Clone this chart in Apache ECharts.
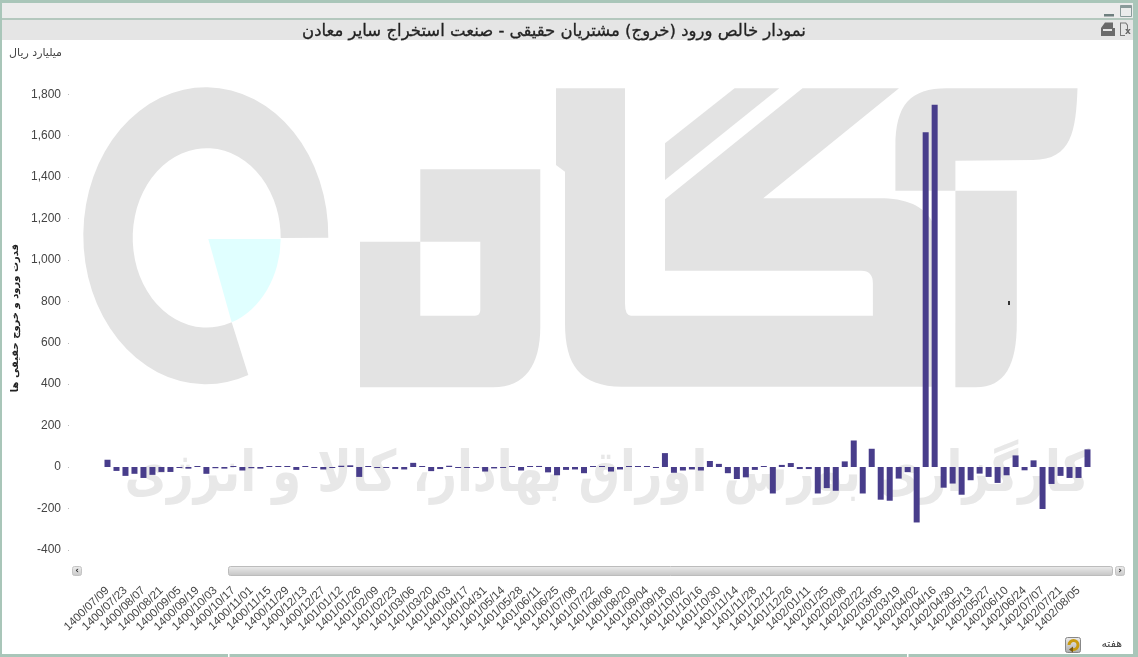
<!DOCTYPE html>
<html>
<head>
<meta charset="utf-8">
<style>html,body{margin:0;padding:0;background:#fff;overflow:hidden}#c{width:1138px;height:657px}</style>
<script src="https://cdn.jsdelivr.net/npm/echarts@6/dist/echarts.min.js"></script>
</head>
<body>
<div id="c"></div>
<script>
const chartTitle = 'نمودار خالص ورود (خروج) مشتریان حقیقی - صنعت استخراج سایر معادن';
const yAxisTitle = 'قدرت ورود و خروج حقیقی ها';
const unitLabel = 'میلیارد ریال';
const xUnitLabel = 'هفته';
const watermarkText = 'کارگزاری بورس اوراق بهادار، کالا و انرژی';

// every second week carries a label on the axis
const tickLabels = [
 '1400/07/09','1400/07/23','1400/08/07','1400/08/21','1400/09/05','1400/09/19','1400/10/03','1400/10/17','1400/11/01','1400/11/15','1400/11/29','1400/12/13','1400/12/27',
 '1401/01/12','1401/01/26','1401/02/09','1401/02/23','1401/03/06','1401/03/20','1401/04/03','1401/04/17','1401/04/31','1401/05/14','1401/05/28','1401/06/11','1401/06/25','1401/07/08','1401/07/22','1401/08/06','1401/08/20','1401/09/04','1401/09/18','1401/10/02','1401/10/16','1401/10/30','1401/11/14','1401/11/28','1401/12/12','1401/12/26',
 '1402/01/11','1402/01/25','1402/02/08','1402/02/22','1402/03/05','1402/03/19','1402/04/02','1402/04/16','1402/04/30','1402/05/13','1402/05/27','1402/06/10','1402/06/24','1402/07/07','1402/07/21','1402/08/05'
];
const netInflow = [
 35,-19,-43,-33,-53,-38,-24,-24,-2,-8, 3,-33,-6,-8, 2,-17,-6,-8, 1, 1,
 1,-14, 3,-2,-12,-4, 6, 8,-48, 4,-2,-4,-10,-12,20, 2,-20,-10, 6,-2,
 -5,-4,-22,-7,-1, 1,-17, 1, 5,-26,-40,-14,-12,-30, 0, 1,-22,-12, 1, 4,
 1,-5,67,-28,-17,-12,-17,29,15,-30,-58,-50,-14, 3,-128,10,19,-10,-10,-128,
 -102,-115,27,128,-128,88,-158,-163,-56,-25,-268,1617,1750,-100,-80,-134,-64,-32,-48,-77,
 -40,56,-16,32,-203,-82,-43,-53,-53,85
];
const categories = tickLabels.flatMap(l => [l, '']);

const WM = '#e3e3e3', FRAME = '#a9c6b9', INK = '#444';
let shapeId = 0;
const path = (d, style, z) => {
  const name = 'logoShape' + (shapeId++);
  echarts.graphic.registerShape(name, echarts.graphic.extendPath(d, {}));
  return {type:name, silent:true, z:z||0, shape:{}, style: typeof style === 'string' ? {fill:style} : style};
};
const rect = (x,y,w,h,fill,stroke,r) => ({type:'rect', silent:true, z:1, shape:{x,y,width:w,height:h,r:r||0}, style:{fill, stroke:stroke||null, lineWidth:stroke?1:0}});
const grad = (a,b) => ({type:'linear',x:0,y:0,x2:0,y2:1,colorStops:[{offset:0,color:a},{offset:1,color:b}]});

const graphic = [
 // watermark logo
 path('M328.3,237.7 A122.5,148.5 0 1 0 248.3,375 L231.7,322.3 A74,89.7 0 1 1 280.7,238 Z', WM),
 path('M208.3,239 L280.7,239 A74,89.7 0 0 1 231.7,322.3 Z', '#e0ffff'),
 path('M360,241.7 L420.3,241.7 L420.3,315.7 L475,315.7 Q480.3,315.7 480.3,310 L480.3,241.7 L420.3,241.7 L420.3,169.3 L540.3,169.3 L540.3,326.7 C540.3,365 525,387.3 493.3,387.3 L360,387.3 Z', WM),
 path('M556,88.3 L625,88.3 L625,303.3 Q625,315.7 631,315.7 L872.9,315.7 L872.9,283.3 Q872.9,270.7 861.4,270.7 L665,270.7 L665,199.3 L802.5,88.3 L899,88.3 L763.2,198.3 L879.3,198.3 C905,198.3 925,205 934,225 L934,386.7 L622,386.7 C580,386.7 565,365 565,323.3 L565,171.7 L556,165 Z', WM),
 path('M665,143.3 L734.6,88.3 L779.3,88.3 L665,180 Z', WM),
 path('M895.4,190.7 L895.4,146.7 C895.4,105 910,88.3 947,88.3 L1077.5,88.3 C1076,130 1072,160 1033,160 L955.4,160.7 L955.4,190.7 Z', WM),
 path('M955.4,190.7 L1016.8,190.7 L1016.8,323 C1016.8,365 1005,387.3 975.7,387.3 L955.4,387.3 Z', WM),
 {type:'text', silent:true, z:0, x:607, y:476, scaleX:0.815, style:{text:watermarkText, font:'bold 57px "DejaVu Sans"', fill:'#e8e8e8', align:'center', verticalAlign:'middle'}},
 rect(1008,301,2,4,'#333'),

 // window frame
 rect(0,0,1138,3,FRAME), rect(0,3,1138,15,'#ececec'), rect(0,18,1138,2,'#b4c8be'), rect(2,20,1131,20,'#e5e5e5'),
 rect(0,0,2,657,FRAME), rect(1133,0,5,657,FRAME), rect(0,654,1138,3,FRAME), rect(228,654,1.5,3,'#fff'), rect(907,654,1.5,3,'#fff'),
 // window buttons
 rect(1104,14,10,2.5,'#6f7f7f'), rect(1120.5,5.5,11,11,null,'#8a9a9a'), rect(1120.5,5.5,11,2.5,'#8a9a9a'),
 path('M1101,36 L1101,28 L1105,22.5 L1113,22.5 L1113,28 L1115,28 L1115,36 Z', '#6a6a6a', 1),
 rect(1103,29,9,2,'#e5e5e5'),
 path('M1120,22.5 L1126,22.5 L1128,25 L1128,30 L1127,30 L1127,25.5 L1125.5,23.5 L1121,23.5 L1121,35 L1125,35 L1125,36 L1120,36 Z', '#777', 1),
 {type:'text', silent:true, z:1, x:1128, y:32, style:{text:'x', font:'bold 9px "DejaVu Sans"', fill:'#666', align:'center', verticalAlign:'middle'}},

 // scrollbar
 rect(72.5,566.5,9,9,grad('#eee','#c8c8c8'),'#c4c4c4',2),
 rect(228.5,566.5,884,9,grad('#ececec','#c4c4c4'),'#bcbcbc',2),
 rect(1115.5,566.5,9,9,grad('#eee','#c8c8c8'),'#c4c4c4',2),
 {type:'text', silent:true, z:2, x:77, y:571, style:{text:'‹', font:'bold 9px "DejaVu Sans"', fill:'#333', align:'center', verticalAlign:'middle'}},
 {type:'text', silent:true, z:2, x:1120, y:571, style:{text:'›', font:'bold 9px "DejaVu Sans"', fill:'#333', align:'center', verticalAlign:'middle'}},

 // unit labels
 {type:'text', silent:true, z:1, x:62, y:53, style:{text:unitLabel, font:'11px "DejaVu Sans"', fill:INK, align:'right', verticalAlign:'middle'}},
 {type:'text', silent:true, z:1, x:1122, y:644, style:{text:xUnitLabel, font:'11px "DejaVu Sans"', fill:INK, align:'right', verticalAlign:'middle'}},

 // reload button
 rect(1065.5,637.5,15,15,grad('#eee','#aaa'),'#888',2),
 path('M1069,645 A4.5,4.5 0 1 1 1073,649.5', {fill:null, stroke:'#c99a10', lineWidth:3}, 2),
 path('M1073,646.5 L1073,652.5 L1069,649.5 Z', '#7a5a10', 2)
];

const option = {
 animation:false,
 backgroundColor:'#fff',
 title:{text:chartTitle, left:549, top:18, textAlign:'center', z:5, textStyle:{fontFamily:'DejaVu Sans', fontSize:16.5, fontWeight:'normal', color:'#222', textBorderColor:'#222', textBorderWidth:0.3}},
 grid:{left:103, top:94.3, width:989, height:455.5, containLabel:false, outerBoundsMode:'none'},
 xAxis:{type:'category', data:categories, boundaryGap:true,
  axisLine:{show:false}, axisTick:{show:false},
  axisLabel:{interval:1, rotate:44, margin:39, fontFamily:'Liberation Sans', fontSize:11.5, color:INK, hideOverlap:false}},
 yAxis:{type:'value', min:-400, max:1800, interval:200, offset:34,
  splitLine:{show:false}, axisLine:{show:false},
  axisTick:{show:true, length:1, lineStyle:{color:'#bbb'}},
  axisLabel:{margin:8, padding:[3,0,0,0], fontFamily:'Liberation Sans', fontSize:12, color:INK, formatter:v=>v.toLocaleString('en-US')},
  name:yAxisTitle, nameLocation:'middle', nameRotate:90, nameGap:49,
  nameTextStyle:{fontFamily:'DejaVu Sans', fontSize:10, fontWeight:'bold', color:'#222', padding:[0,0,0,8]}},
 series:[{type:'bar', data:netInflow, barWidth:6, barMinHeight:1, itemStyle:{color:'#483d8b'}, z:3}],
 graphic:{elements:graphic}
};
const chart = echarts.init(document.getElementById('c'), null, {renderer:'canvas', width:1138, height:657});
chart.setOption(option);
</script>
</body>
</html>
